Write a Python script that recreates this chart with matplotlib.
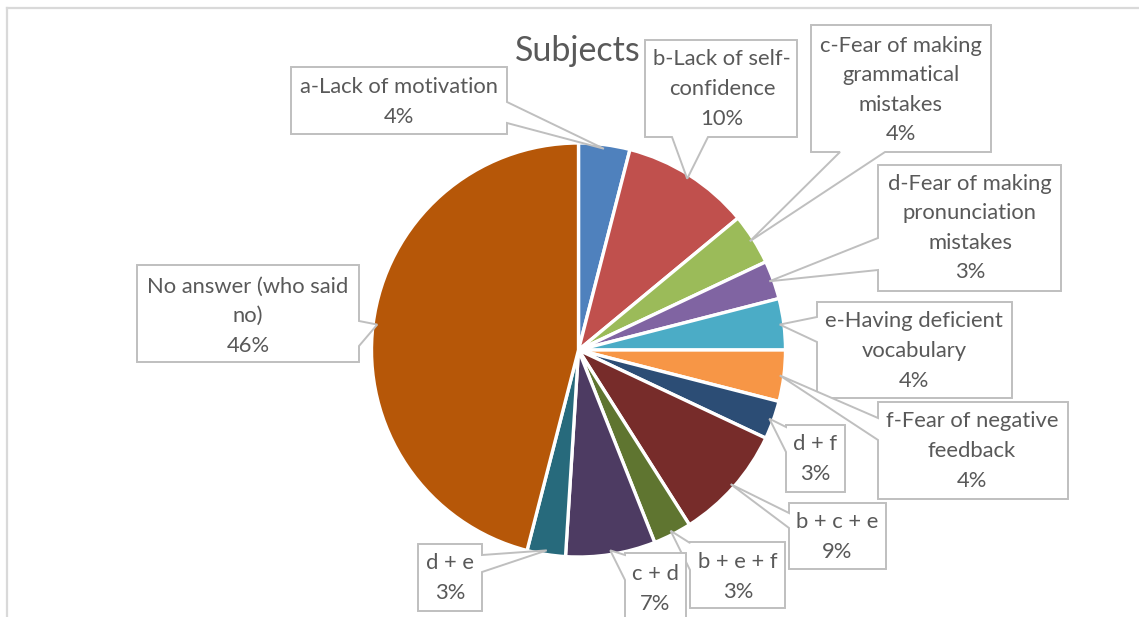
import matplotlib.pyplot as plt
from matplotlib.patches import Polygon
import numpy as np

W, H = 1139, 617

labels = ['a-Lack of motivation', 'b-Lack of self-\nconfidence',
          'c-Fear of making\ngrammatical\nmistakes',
          'd-Fear of making\npronunciation\nmistakes',
          'e-Having deficient\nvocabulary', 'f-Fear of negative\nfeedback',
          'd + f', 'b + c + e', 'b + e + f', 'c + d', 'd + e',
          'No answer (who said\nno)']
shares = [4, 10, 4, 3, 4, 4, 3, 9, 3, 7, 3, 46]
colors = ['#4F81BD', '#C0504D', '#9BBB59', '#8064A2', '#4BACC6', '#F79646',
          '#2C4D75', '#772C2A', '#5F7530', '#4D3B62', '#276A7C', '#B65708']

# callout boxes in pixels from the top-left: (x0, y0, x1, y1), side of the
# pointer, pointer base span along that side, text centre
boxes = [
    ((291, 67, 507, 134), 'right', (102, 123), (399, 102)),
    ((645, 40, 797, 137), 'bottom', (672, 708), (722, 89)),
    ((811, 25, 991, 152), 'bottom', (840, 885), (901, 90)),
    ((878, 165, 1061, 291), 'left', (238, 270), (970, 228)),
    ((817, 302, 1012, 398), 'left', (317, 342), (914, 351)),
    ((878, 402, 1068, 499), 'left', (418, 440), (972, 451)),
    ((786, 425, 845, 492), 'left', (427, 452), (815, 459)),
    ((789, 503, 886, 569), 'left', (513, 528), (837, 537)),
    ((690, 542, 785, 608), 'left', (543, 570), (738, 577)),
    ((625, 553, 686, 640), 'left', (555, 580), (655, 589)),
    ((418, 544, 482, 611), 'right', (555, 572), (450, 578)),
    ((137, 265, 359, 362), 'right', (321, 346), (248, 316)),
]

TEXT = '#595959'
EDGE = '#BFBFBF'
plt.rcParams['font.family'] = ['Lato', 'DejaVu Sans']

fig = plt.figure(figsize=(W / 100, H / 100), dpi=100)
ax = fig.add_axes([0, 0, 1, 1])


def up(y):
    return H - y


cx, cy, r = 578.5, up(350), 207
wedges, _ = ax.pie(shares, colors=colors, startangle=90, counterclock=False,
                   center=(cx, cy), radius=r,
                   wedgeprops=dict(edgecolor='white', linewidth=2.4))

for w, lab, pct, (box, side, base, tc) in zip(wedges, labels, shares, boxes):
    mid = np.deg2rad((w.theta1 + w.theta2) / 2)
    tip = (cx + r * 0.98 * np.cos(mid), cy + r * 0.98 * np.sin(mid))
    x0, y0, x1, y1 = box
    a, b = base
    if side == 'right':
        pts = [(x0, y0), (x1, y0), (x1, a), None, (x1, b), (x1, y1), (x0, y1)]
    elif side == 'left':
        pts = [(x0, y0), (x1, y0), (x1, y1), (x0, y1), (x0, b), None, (x0, a)]
    elif side == 'bottom':
        pts = [(x0, y0), (x1, y0), (x1, y1), (b, y1), None, (a, y1), (x0, y1)]
    else:
        pts = [(x0, y0), (a, y0), None, (b, y0), (x1, y0), (x1, y1), (x0, y1)]
    verts = [tip if p is None else (p[0], up(p[1])) for p in pts]
    ax.add_patch(Polygon(verts, closed=True, facecolor='white', edgecolor=EDGE,
                         linewidth=1.4, zorder=3))
    ax.text(tc[0], up(tc[1]), f'{lab}\n{pct}%', ha='center', va='center',
            multialignment='center', fontsize=15.8, color=TEXT,
            linespacing=1.6, zorder=4)

ax.text(578, up(51), 'Subjects', ha='center', va='center', fontsize=24.5,
        color=TEXT)

# chart area outline (top and left edges)
ax.plot([7, W], [up(8), up(8)], color='#D9D9D9', lw=1.6, clip_on=False)
ax.plot([7, 7], [up(8), 0], color='#D9D9D9', lw=1.6, clip_on=False)

ax.set_xlim(0, W)
ax.set_ylim(0, H)
ax.set_aspect('equal')
ax.axis('off')

fig.savefig('out.png', dpi=100)
